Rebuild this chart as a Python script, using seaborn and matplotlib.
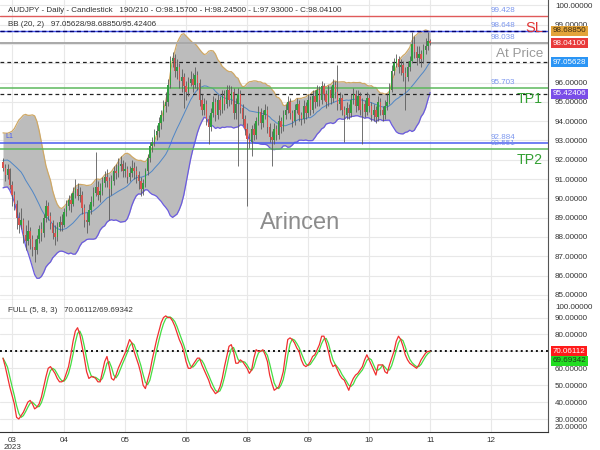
import numpy as np
import pandas as pd
import matplotlib
matplotlib.use("Agg")
import matplotlib.pyplot as plt
from matplotlib.ticker import FuncFormatter
import seaborn as sns

# ---------------- data ----------------
symbol_title = "AUDJPY - Daily - Candlestick   190/210 - O:98.15700 - H:98.24500 - L:97.93000 - C:98.04100"
bb_title = "BB (20, 2)   97.05628/98.68850/95.42406"
stoch_title = "FULL (5, 8, 3)   70.06112/69.69342"
watermark = "Arincen"

first_open = 91.9
closes = [
    91.6, 91.2, 91.5, 90.7, 90.2, 89.7, 89.0, 88.6, 88.9, 88.1,
    87.8, 88.3, 87.9, 87.5, 87.3, 87.9, 88.4, 88.2, 89.0, 89.6,
    89.1, 88.7, 88.2, 88.0, 88.5, 88.8, 88.6, 89.3, 89.6, 89.9,
    89.7, 90.3, 90.5, 90.1, 90.2, 89.5, 88.9, 88.8, 89.4, 89.8,
    90.3, 90.6, 90.2, 90.4, 90.8, 91.1, 90.9, 90.5, 90.9, 91.4,
    91.3, 91.7, 91.8, 91.4, 91.5, 91.1, 91.3, 91.6, 91.4, 91.2,
    90.9, 90.5, 90.8, 91.4, 92.1, 92.7, 92.9, 93.3, 93.5, 93.9,
    94.3, 94.8, 95.0, 95.9, 97.1, 97.3, 96.6, 96.8, 96.1, 96.3,
    95.8, 95.5, 96.0, 96.2, 95.9, 96.4, 96.0, 95.1, 94.6, 94.9,
    94.1, 93.7, 94.4, 95.0, 94.3, 95.1, 94.6, 95.3, 94.9, 95.6,
    95.1, 95.5, 94.4, 94.9, 95.4, 94.7, 94.1, 93.6, 93.1, 92.9,
    93.6, 93.3, 94.0, 94.5, 93.9, 94.3, 94.6, 93.7, 93.2, 93.0,
    93.6, 93.3, 94.0, 93.7, 94.3, 94.6, 95.0, 94.4, 94.0, 94.6,
    94.9, 94.3, 94.1, 94.8, 94.4, 95.1, 94.6, 95.3, 95.0, 95.6,
    95.1, 95.8, 95.4, 95.0, 95.6, 95.2, 95.9, 95.5, 94.9, 95.2,
    94.6, 94.3, 94.7, 94.4, 95.1, 95.4, 94.8, 95.3, 94.6, 94.9,
    94.5, 95.2, 94.8, 94.3, 94.6, 94.2, 95.0, 94.6, 94.3, 94.8,
    95.0, 95.6, 96.6, 97.0, 97.2, 96.8, 96.9, 96.5, 96.3, 96.8,
    97.1, 98.0, 97.6, 97.3, 97.5, 97.2, 97.7, 97.9, 98.157, 98.041,
]
highs = [
    92.1, 91.8, 91.8, 91.6, 90.9, 90.4, 89.9, 89.3, 89.5, 89.0,
    88.6, 88.9, 88.5, 88.1, 87.9, 88.1, 88.6, 88.8, 89.2, 89.9,
    89.8, 89.3, 88.9, 88.6, 88.8, 89.1, 89.2, 89.5, 89.9, 90.2,
    90.3, 90.6, 91.0, 90.8, 90.6, 90.4, 89.7, 89.3, 89.7, 90.1,
    90.6, 92.4, 90.9, 90.8, 91.1, 91.4, 91.5, 91.1, 91.2, 91.7,
    91.8, 92.1, 92.2, 92.0, 91.9, 91.7, 91.7, 92.0, 91.9, 91.7,
    91.4, 91.1, 91.0, 91.6, 92.3, 92.9, 93.2, 93.6, 93.8, 94.2,
    94.6, 95.1, 95.5, 96.2, 97.4, 97.6, 97.5, 97.2, 97.0, 96.7,
    96.5, 96.1, 96.3, 96.6, 96.5, 96.8, 96.6, 96.2, 95.4, 95.2,
    95.1, 94.3, 94.7, 95.3, 95.2, 95.4, 95.3, 95.6, 95.6, 95.9,
    95.9, 95.8, 95.7, 95.2, 95.7, 95.6, 94.9, 94.3, 93.9, 93.4,
    93.8, 93.9, 94.2, 94.8, 94.7, 94.6, 94.9, 94.8, 93.9, 93.5,
    93.9, 93.8, 94.3, 94.2, 94.6, 94.9, 95.3, 95.2, 94.6, 94.9,
    95.2, 95.1, 94.5, 95.1, 95.0, 95.4, 95.3, 95.6, 95.6, 95.9,
    95.8, 96.1, 96.0, 95.6, 95.9, 95.8, 96.2, 96.1, 96.9, 95.5,
    95.4, 94.8, 95.0, 94.9, 95.4, 95.7, 95.6, 95.6, 95.5, 95.2,
    95.1, 95.5, 95.4, 95.0, 94.9, 94.8, 95.3, 95.2, 94.8, 95.1,
    95.4, 96.0, 96.9, 97.3, 97.5, 97.4, 97.2, 97.1, 96.8, 97.1,
    97.4, 98.6, 98.4, 97.9, 97.9, 97.7, 98.0, 98.3, 98.6, 98.245,
]
lows = [
    91.4, 90.9, 91.0, 90.5, 89.6, 89.4, 88.4, 88.2, 88.4, 87.7,
    87.3, 87.6, 87.4, 87.0, 86.7, 87.1, 87.7, 87.8, 88.0, 88.8,
    88.9, 88.4, 87.9, 87.6, 87.8, 88.3, 88.3, 88.5, 89.1, 89.4,
    89.3, 89.6, 90.0, 89.9, 89.8, 89.2, 88.5, 88.2, 88.6, 89.2,
    89.6, 90.1, 89.9, 89.8, 90.2, 90.6, 90.6, 88.9, 90.2, 90.7,
    91.0, 91.1, 91.4, 91.1, 91.1, 90.8, 90.9, 91.1, 91.0, 90.8,
    90.5, 90.1, 90.2, 90.6, 91.2, 91.9, 92.4, 92.7, 93.0, 93.2,
    93.6, 94.0, 94.5, 94.8, 95.7, 96.8, 96.3, 96.2, 95.7, 95.5,
    94.7, 95.1, 95.3, 95.8, 95.5, 95.7, 95.6, 94.8, 94.3, 94.3,
    93.8, 92.8, 93.5, 94.2, 94.0, 94.1, 94.3, 94.4, 94.6, 94.7,
    94.8, 94.9, 94.1, 94.1, 91.7, 94.4, 93.8, 93.3, 89.6, 92.6,
    92.2, 93.0, 93.1, 93.8, 93.6, 93.7, 94.1, 93.4, 92.9, 91.7,
    92.8, 93.0, 93.1, 93.4, 93.5, 94.1, 94.4, 94.1, 93.7, 93.8,
    94.4, 94.0, 93.8, 93.9, 94.1, 94.2, 94.3, 94.4, 94.7, 94.8,
    94.8, 94.9, 95.1, 94.7, 94.8, 94.9, 95.0, 95.2, 94.6, 94.6,
    94.3, 92.9, 94.1, 94.1, 94.2, 94.9, 94.5, 94.6, 94.3, 92.8,
    94.2, 94.3, 94.5, 94.0, 94.0, 93.9, 94.0, 94.3, 94.0, 94.1,
    94.6, 94.9, 95.5, 96.4, 96.8, 96.5, 96.4, 96.1, 94.6, 96.1,
    96.6, 97.0, 97.3, 96.9, 97.0, 96.8, 97.0, 97.5, 97.7, 97.93,
]
# closes before the first visible bar (only feed the Bollinger warm-up)
prior_closes = [91.0, 91.4, 92.0, 92.3, 91.8, 91.2, 90.9, 91.3, 91.9, 92.4,
                92.1, 91.6, 91.3, 91.7, 92.6, 93.2, 93.4, 93.0, 92.7]

stoch_k = [
    66, 61, 55, 49, 44, 39, 31, 30, 32, 34,
    37, 40, 41, 39, 36, 37, 39, 43, 49, 55,
    60, 61, 59, 57, 54, 52, 52, 53, 57, 61,
    68, 76, 82, 84, 80, 73, 66, 58, 54, 55,
    55, 54, 52, 52, 58, 64, 67, 61, 54, 53,
    56, 60, 63, 66, 69, 73, 77, 75, 70, 66,
    62, 57, 50, 48, 53, 58, 65, 71, 77, 82,
    87, 90, 91, 90, 90, 88, 85, 81, 77, 74,
    70, 64, 60, 60, 62, 64, 66, 66, 62, 59,
    56, 53, 49, 47, 45, 46, 49, 54, 61, 67,
    73, 74, 70, 63, 63, 65, 64, 62, 60, 57,
    59, 66, 71, 70, 70, 71, 68, 64, 56, 51,
    47, 48, 49, 53, 58, 68, 77, 78, 77, 75,
    72, 70, 65, 62, 61, 62, 64, 67, 68, 71,
    74, 79, 79, 75, 70, 64, 61, 62, 59, 56,
    54, 53, 50, 47, 51, 54, 56, 57, 59, 61,
    65, 68, 65, 62, 59, 56, 62, 62, 62, 58,
    57, 62, 66, 70, 76, 79, 77, 73, 68, 65,
    63, 62, 61, 60, 62, 65, 67, 69, 70, 70.06112,
]

month_labels = ["03\n2023", "04", "05", "06", "08", "09", "10", "11", "12"]
month_bars = [4, 27, 54, 81, 108, 135, 162, 189, 216]

level_values = [99.428, 98.648, 98.038, 95.703, 92.884, 92.551]
level_labels = ["99.428", "98.648", "98.038", "95.703", "92.884", "92.551"]
bb_last = [97.05628, 98.68850, 95.42406]   # mid / upper / lower
last_close = 98.041
stoch_last = [70.06112, 69.69342]
stoch_level = 70
# tick labels that sit fully under a value badge in the reference
price_hidden = [97, 98]
stoch_hidden = [70]

# ---------------- build frames ----------------
n = len(closes)
bars = np.arange(n)
c = np.array(closes)
o = np.r_[first_open, c[:-1]]
full_close = pd.Series(prior_closes + closes)
mid = full_close.rolling(20).mean().to_numpy()[len(prior_closes):]
sd = full_close.rolling(20).std(ddof=0).to_numpy()[len(prior_closes):]
df = pd.DataFrame({"bar": bars, "open": o, "close": c, "high": highs, "low": lows,
                   "bb_mid": mid, "bb_up": mid + 2 * sd, "bb_lo": mid - 2 * sd})
k = pd.Series(stoch_k)
sdf = pd.DataFrame({"bar": bars, "k": k, "d": k.rolling(3, min_periods=1).mean()})

# ---------------- style ----------------
sns.set_style("white")
plt.rcParams['font.family'] = ['Liberation Sans', 'DejaVu Sans']
TXT = "#333333"
FS = 5.8

W, H = 600, 450
def rect(x0, y0, x1, y1):
    return [x0 / W, 1 - y1 / H, (x1 - x0) / W, (y1 - y0) / H]

def fmt_hiding(hidden):
    return FuncFormatter(lambda v, p: "" if round(v) in hidden else "%.5f" % v)

fig = plt.figure(figsize=(6, 4.5), dpi=100)
ax = fig.add_axes(rect(0, 0, 548, 299.5))
ax2 = fig.add_axes(rect(0, 300, 548, 431.7))

xlim = (-3 / 2.26, 545 / 2.26)

# ---------------- price panel ----------------
ax.fill_between(df["bar"], df["bb_lo"], df["bb_up"], color="#bcbcbc", lw=0, zorder=1)
sns.lineplot(data=df, x="bar", y="bb_up", ax=ax, color="#cfa865", lw=0.9, zorder=2)
sns.lineplot(data=df, x="bar", y="bb_lo", ax=ax, color="#6a5ae0", lw=0.9, zorder=2)
sns.lineplot(data=df, x="bar", y="bb_mid", ax=ax, color="#4f86c6", lw=0.7, zorder=2)

# horizontal levels
ax.axhline(level_values[0], color="#e05a5a", lw=1.0, zorder=2.5)
ax.axhline(level_values[1], color="#4a5cf0", lw=1.0, zorder=2.5)
ax.axhline(bb_last[1], color="#000070", lw=1.0, ls=(0, (3, 2)), zorder=2.6)
ax.axhline(level_values[2], color="#a8a8a8", lw=1.4, zorder=2.5)
ax.axhline(bb_last[0], color="#222222", lw=0.9, ls=(0, (3, 2.5)), zorder=2.5)
ax.axhline(level_values[3], color="#5cb85c", lw=1.1, zorder=2.5)
ax.axhline(bb_last[2], color="#222222", lw=0.9, ls=(0, (3, 2.5)), zorder=2.5)
ax.axhline(level_values[4], color="#4a5cf0", lw=1.1, zorder=2.5)
ax.axhline(level_values[5], color="#5cb85c", lw=1.1, zorder=2.5)

# candles
up = df["close"] >= df["open"]
body_col = np.where(up, "#2f9e3f", "#d9534f")
ax.vlines(df["bar"], df["low"], df["high"], color="#5a5a5a", lw=0.6, zorder=3)
body_h = np.maximum((df["close"] - df["open"]).abs(), 0.04)
ax.bar(df["bar"], body_h, bottom=np.minimum(df["open"], df["close"]), width=0.62,
       color=body_col, lw=0, zorder=4)

ax.set_xlim(*xlim)
ax.set_ylim(84.76, 100.28)
ax.set_yticks(np.arange(85, 101, 1))
ax.yaxis.tick_right()
ax.yaxis.set_major_formatter(fmt_hiding(price_hidden))
ax.tick_params(axis="y", length=0, pad=5, labelsize=FS, labelcolor=TXT)
ax.set_xticks(month_bars)
ax.tick_params(axis="x", length=0, labelbottom=False)
ax.grid(True, color="#e8e8e8", lw=0.8, zorder=0)
ax.set_axisbelow(True)
ax.set_xlabel("")
ax.set_ylabel("")
for s in ["left", "top"]:
    ax.spines[s].set_visible(False)
ax.spines["right"].set_color("#555555")
ax.spines["bottom"].set_color("#666666")

# level value labels
lx = 491 / 548
for v, t in zip(level_values, level_labels):
    ax.annotate(t, xy=(lx, v), xycoords=("axes fraction", "data"), xytext=(0, 1.5),
                textcoords="offset points", fontsize=FS, color="#7b96ee", va="bottom", ha="left")

# big level tags
def tag(text, v, dy, color, fs):
    ax.annotate(text, xy=(543 / 548, v), xycoords=("axes fraction", "data"), xytext=(0, dy),
                textcoords="offset points", fontsize=fs, color=color, va="center", ha="right")
tag("SL", level_values[1], 2.5, "#e03535", 10.5)
tag("At Price", level_values[2], -8, "#9a9a9a", 9.7)
tag("TP1", level_values[3], -8, "#33a033", 10.2)
tag("TP2", level_values[5], -8, "#33a033", 10.2)
ax.annotate("L1", xy=(5 / 548, level_values[4]), xycoords=("axes fraction", "data"), xytext=(0, 2),
            textcoords="offset points", fontsize=5, color="#4a5cf0", va="bottom", ha="left")

ax.text(300 / 548, 1 - 223 / 299.5, watermark, transform=ax.transAxes, fontsize=17,
        color="#8c8c8c", ha="center", va="center", zorder=5)

# badges
def badge(a, v, text, fc, tc, dy=0):
    a.annotate(text, xy=(1, v), xycoords=("axes fraction", "data"), xytext=(3.5, dy),
               textcoords="offset points", fontsize=FS, color=tc, va="center", ha="left",
               bbox=dict(boxstyle="square,pad=0.18", fc=fc, ec="none"), annotation_clip=False,
               zorder=10)
badge(ax, bb_last[1], "%.5f" % bb_last[1], "#e3a43a", "#3a2a10")
badge(ax, last_close, "%.5f" % last_close, "#e83a3a", "white")
badge(ax, bb_last[0], "%.5f" % bb_last[0], "#2b95f5", "white")
badge(ax, bb_last[2], "%.5f" % bb_last[2], "#7a4de8", "white")

# ---------------- stochastic panel ----------------
ax2.axhline(stoch_level, color="#111111", lw=1.4, ls=(0, (1, 1.6)), zorder=2)
sns.lineplot(data=sdf, x="bar", y="d", ax=ax2, color="#44dd44", lw=0.9, zorder=3)
sns.lineplot(data=sdf, x="bar", y="k", ax=ax2, color="#f03030", lw=0.9, zorder=4)
ax2.set_xlim(*xlim)
ax2.set_ylim(22.5, 100.4)
ax2.set_yticks(np.arange(30, 91, 10))
ax2.yaxis.tick_right()
ax2.yaxis.set_major_formatter(fmt_hiding(stoch_hidden))
ax2.tick_params(axis="y", length=0, pad=5, labelsize=FS, labelcolor=TXT)
ax2.set_xticks(month_bars)
ax2.set_xticklabels(month_labels, linespacing=0.95)
ax2.tick_params(axis="x", length=3, width=0.8, color="#555555", pad=0.8,
                labelsize=FS, labelcolor=TXT, direction="out")
ax2.grid(True, color="#e8e8e8", lw=0.8, zorder=0)
ax2.set_axisbelow(True)
ax2.set_xlabel("")
ax2.set_ylabel("")
for s in ["left", "top"]:
    ax2.spines[s].set_visible(False)
ax2.spines["right"].set_color("#555555")
ax2.spines["bottom"].set_color("#333333")
ax2.text(1 + 7 / 548, 96.0, "100.00000", transform=ax2.get_yaxis_transform(), fontsize=FS,
         color=TXT, va="center", ha="left")
ax2.text(1 + 7 / 548, 25.0, "20.00000", transform=ax2.get_yaxis_transform(), fontsize=FS,
         color=TXT, va="center", ha="left")
badge(ax2, stoch_last[0], "%.5f" % stoch_last[0], "#ff1a1a", "white")
badge(ax2, stoch_last[1], "%.5f" % stoch_last[1], "#22dd22", "#1a3a1a", dy=-6.3)

# titles
fig.text(8 / W, 1 - 10 / H, symbol_title, fontsize=FS, color=TXT, va="center", ha="left")
fig.text(8 / W, 1 - 25 / H, bb_title, fontsize=FS, color=TXT, va="center", ha="left")
fig.text(8 / W, 1 - 311 / H, stoch_title, fontsize=FS, color=TXT, va="center", ha="left")

fig.savefig("out.png", dpi=100)
